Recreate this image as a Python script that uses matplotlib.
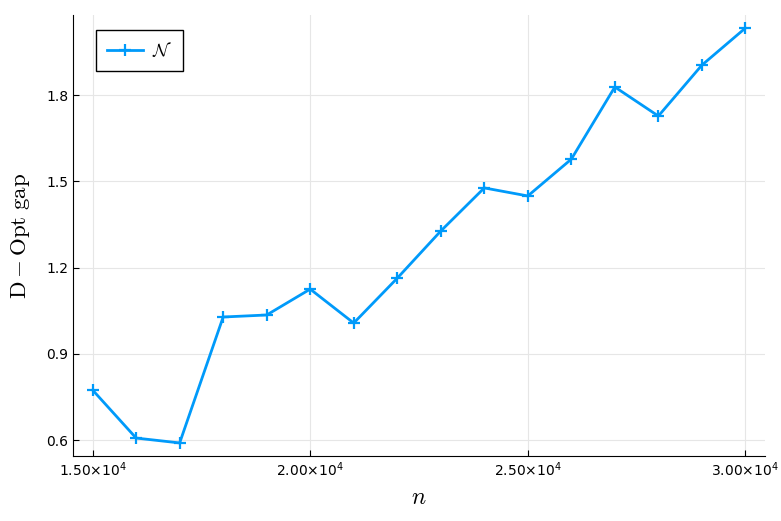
import matplotlib
matplotlib.use("Agg")
import matplotlib.pyplot as plt

plt.rcParams['mathtext.fontset'] = 'cm'

# data
n_vals = [15000, 16000, 17000, 18000, 19000, 20000, 21000, 22000,
          23000, 24000, 25000, 26000, 27000, 28000, 29000, 30000]
gap = [0.774, 0.607, 0.590, 1.028, 1.035, 1.125, 1.007, 1.163,
       1.327, 1.477, 1.449, 1.577, 1.828, 1.727, 1.904, 2.033]
xticks = [15000, 20000, 25000, 30000]
xtick_labels = [r"$1.50{\times}10^{4}$", r"$2.00{\times}10^{4}$",
                r"$2.50{\times}10^{4}$", r"$3.00{\times}10^{4}$"]
yticks = [0.6, 0.9, 1.2, 1.5, 1.8]

fig = plt.figure(figsize=(7.81, 5.21), dpi=100)
ax = fig.add_axes([0.0935, 0.125, 0.886, 0.846])

ax.plot(n_vals, gap, color='#009AFA', lw=2, marker='+', ms=9, mew=1.6,
        label=r'$\mathcal{N}$')

ax.set_xlim(14550, 30450)
ax.set_ylim(0.545, 2.078)
ax.set_xticks(xticks)
ax.set_xticklabels(xtick_labels, math_fontfamily='dejavusans')
ax.set_yticks(yticks)
ax.set_yticklabels(["0.6", "0.9", "1.2", "1.5", "1.8"])
ax.tick_params(direction='in', length=4, labelsize=10, color='black')
ax.grid(True, color='#e6e6e6', lw=0.8)
for s in ['top', 'right']:
    ax.spines[s].set_visible(False)

ax.set_xlabel(r'$n$', fontsize=17)
ax.set_ylabel(r'$\mathrm{D-Opt\ gap}$', fontsize=16.5, labelpad=10)

leg = ax.legend(loc='upper left', bbox_to_anchor=(0.033, 0.966),
                borderaxespad=0, fontsize=13, fancybox=False,
                edgecolor='black', framealpha=1, handlelength=2.0,
                handletextpad=0.5, borderpad=0.6)
leg.get_frame().set_linewidth(1)

fig.savefig("out.png", dpi=100)
